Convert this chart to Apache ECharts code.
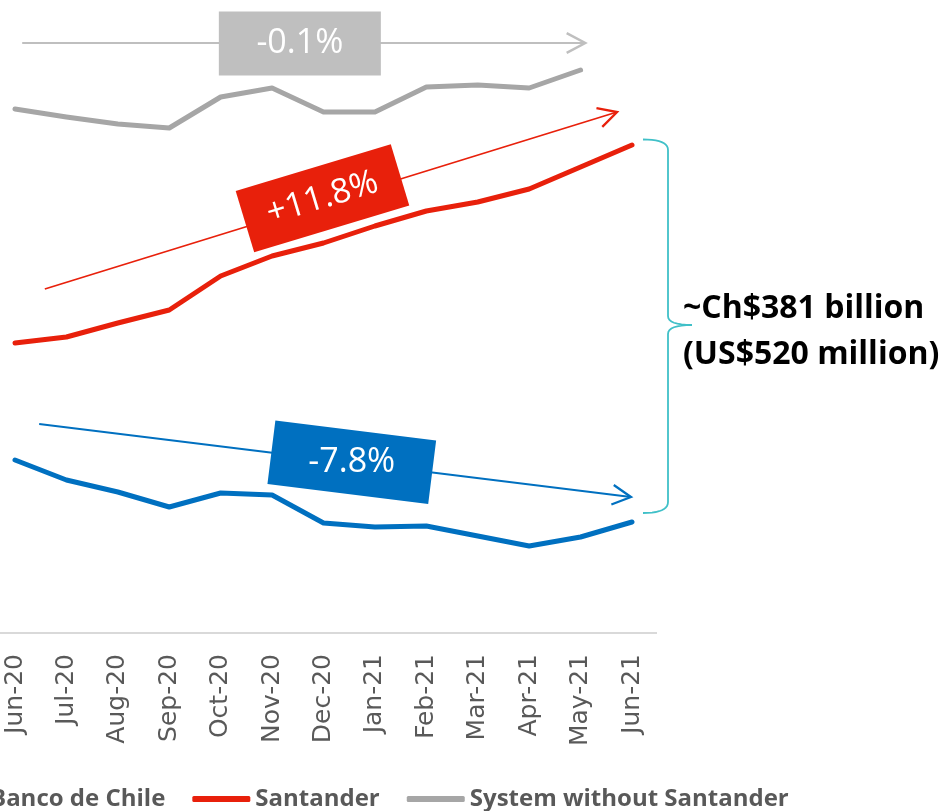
<!DOCTYPE html>
<html><head><meta charset="utf-8">
<script src="https://cdn.jsdelivr.net/npm/echarts@6/dist/echarts.min.js"></script>
<style>html,body{margin:0;padding:0;background:#fff;overflow:hidden}#c{width:943px;height:811px;}</style>
</head><body><div id="c"></div>
<script>
const categories = ['Jun-20','Jul-20','Aug-20','Sep-20','Oct-20','Nov-20','Dec-20','Jan-21','Feb-21','Mar-21','Apr-21','May-21','Jun-21'];
const seriesNames = ['Banco de Chile','Santander','System without Santander'];
const bancoDeChile = [173,153,141,126,140,138,110,106,107,97,87,96,111];
const santander = [290,296,310,323,357,377,390,407,422,431,444,466,488];
const systemWithoutSantander = [524,516,509,505,536,545,521,521,546,548,545,563,null];
const trendLabels = ['-0.1%','+11.8%','-7.8%'];
// trend arrows in data space: [category index, value]
const grayTrend = [[0.14,590],[11.09,590]];
const redTrend = [[0.58,344],[11.71,521]];
const blueTrend = [[0.47,209],[11.98,136]];
// label boxes centres in data space
const grayBox = [5.54,589.5];
const redBox = [5.98,434.8];
const blueBox = [6.55,170.7];
const calloutLines = ['~Ch$381 billion','(US$520 million)'];

const RED = '#E8200B', BLUE = '#0070C0', GRAY = '#A6A6A6', LGRAY = '#BFBFBF', TEAL = '#40C0C8';

const chart = echarts.init(document.getElementById('c'));
const mkSeries = (name, data, color) => ({
  name, type: 'line', data, color, symbol: 'none', smooth: false,
  lineStyle: { width: 5, color, cap: 'round', join: 'round' },
  itemStyle: { color }, z: 3, animation: false
});
chart.setOption({
  animation: false,
  grid: { left: 15, right: 311, top: 0, bottom: 178 },
  xAxis: {
    type: 'category', data: categories, boundaryGap: false,
    axisLine: { show: false },
    axisTick: { show: false },
    axisLabel: { rotate: 90, interval: 0, margin: 21, fontSize: 25, fontFamily: '"DejaVu Sans", Verdana, sans-serif', color: '#595959' }
  },
  yAxis: { type: 'value', min: 0, max: 633, show: false, splitLine: { show: false } },
  legend: {
    left: -73, top: 787, padding: 0, itemGap: 27, itemWidth: 58, itemHeight: 6, icon: 'roundRect',
    data: seriesNames,
    textStyle: { fontFamily: 'Open Sans', fontWeight: 'bold', fontSize: 24, color: '#595959' }
  },
  series: [
    mkSeries(seriesNames[0], bancoDeChile, BLUE),
    mkSeries(seriesNames[1], santander, RED),
    mkSeries(seriesNames[2], systemWithoutSantander, GRAY)
  ]
});

function toPx(p) {
  const a = chart.convertToPixel({ xAxisIndex: 0 }, 0);
  const b = chart.convertToPixel({ xAxisIndex: 0 }, categories.length - 1);
  const x = a + (b - a) * p[0] / (categories.length - 1);
  const y = chart.convertToPixel({ yAxisIndex: 0 }, p[1]);
  return [x, y];
}
function arrow(tr, color, width) {
  const s = toPx(tr[0]), e = toPx(tr[1]);
  const ang = Math.atan2(e[1] - s[1], e[0] - s[0]);
  const L = 21, A = 28 * Math.PI / 180;
  const a1 = [e[0] - L * Math.cos(ang - A), e[1] - L * Math.sin(ang - A)];
  const a2 = [e[0] - L * Math.cos(ang + A), e[1] - L * Math.sin(ang + A)];
  return [
    { type: 'polyline', shape: { points: [s, e] }, style: { stroke: color, lineWidth: width, fill: null }, z: 1 },
    { type: 'polyline', shape: { points: [a1, e, a2] }, style: { stroke: color, lineWidth: width + 0.5, fill: null, lineJoin: 'miter' }, z: 1 }
  ];
}
function box(c, color, label, rotDeg, rotateText) {
  const p = toPx(c);
  const rot = rotDeg * Math.PI / 180;
  const txt = { type: 'text', style: { text: label, x: 0, y: 0, fill: '#fff', font: '34px "Open Sans"', align: 'center', verticalAlign: 'middle', textAlign: 'center', textVerticalAlign: 'middle' }, z: 6 };
  const els = [{
    type: 'group', x: p[0], y: p[1], rotation: rot, z: 5,
    children: [{ type: 'rect', shape: { x: -81, y: -32, width: 162, height: 64 }, style: { fill: color }, z: 5 }].concat(rotateText ? [txt] : [])
  }];
  if (!rotateText) els.push({ type: 'group', x: p[0], y: p[1], z: 6, children: [txt] });
  return els;
}
function quad(p0, c, p1, n) {
  const pts = [];
  for (let i = 0; i <= n; i++) {
    const t = i / n, u = 1 - t;
    pts.push([u * u * p0[0] + 2 * u * t * c[0] + t * t * p1[0], u * u * p0[1] + 2 * u * t * c[1] + t * t * p1[1]]);
  }
  return pts;
}
const bracePts = [].concat(
  quad([643, 139.5], [668, 139.5], [668, 150], 10),
  quad([668, 316], [668, 325], [692, 325], 8),
  quad([692, 325], [668, 325], [668, 334], 8),
  quad([668, 502], [668, 513], [643, 513], 10)
);
const axisY = chart.convertToPixel({ yAxisIndex: 0 }, 0);
const graphic = [].concat(
  [{ type: 'line', z: 1, shape: { x1: 0, y1: axisY, x2: 657, y2: axisY }, style: { stroke: '#D9D9D9', lineWidth: 2 } }],
  arrow(grayTrend, LGRAY, 2),
  arrow(redTrend, RED, 1.8),
  arrow(blueTrend, BLUE, 1.8),
  box(grayBox, LGRAY, trendLabels[0], 0, true),
  box(redBox, RED, trendLabels[1], 16.8, true),
  box(blueBox, BLUE, trendLabels[2], -7.1, false),
  [{ type: 'polyline', z: 2, shape: { points: bracePts }, style: { stroke: TEAL, lineWidth: 1.8, fill: null } },
  { type: 'text', z: 6, style: { text: calloutLines[0], x: 683, y: 309, fill: '#000', font: 'bold 32px "Open Sans"', align: 'left', verticalAlign: 'middle', textAlign: 'left', textVerticalAlign: 'middle' } },
  { type: 'text', z: 6, style: { text: calloutLines[1], x: 683, y: 355, fill: '#000', font: 'bold 32px "Open Sans"', align: 'left', verticalAlign: 'middle', textAlign: 'left', textVerticalAlign: 'middle' } }]
);
chart.setOption({ graphic });
</script></body></html>
